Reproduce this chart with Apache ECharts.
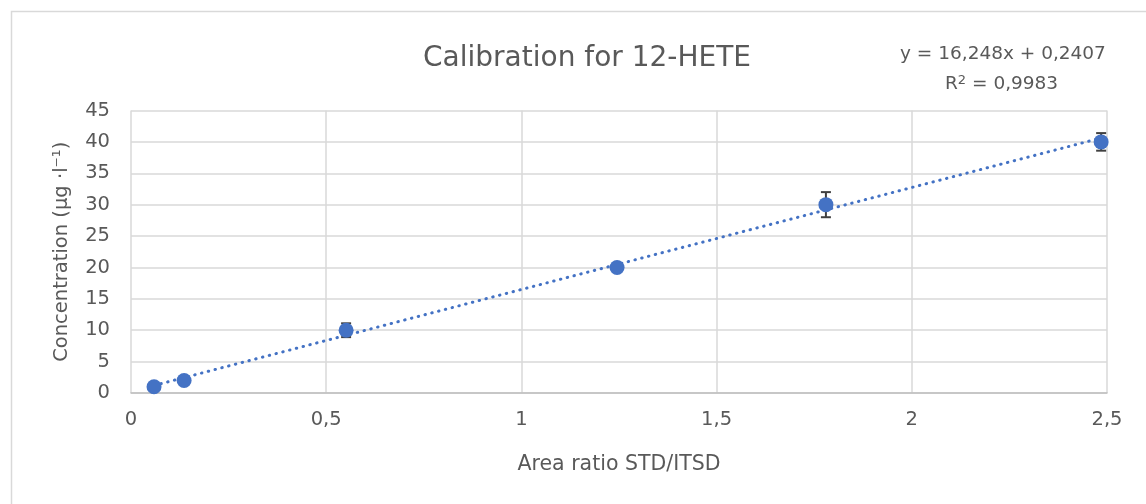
<!DOCTYPE html>
<html>
<head>
<meta charset="utf-8">
<script src="https://cdn.jsdelivr.net/npm/echarts@6/dist/echarts.min.js"></script>
<style>
  html, body { margin: 0; padding: 0; background: #fff; }
  #chart { width: 1146px; height: 504px; }
</style>
</head>
<body>
<div id="chart"></div>
<script>
// Calibration standards: area ratio (x) vs nominal concentration (y)
const areaRatio = [0.059, 0.136, 0.551, 1.245, 1.780, 2.485];
const concentration = [1, 2, 10, 20, 30, 40];
// Standard deviation of replicate measurements (µg·l⁻¹)
const errorSD = [0.3, 0.3, 1.1, 0.5, 2.0, 1.4];
// Linear fit coefficients
const slope = 16.248;
const intercept = 0.2407;
const rSquared = '0,9983';
const xTicks = [0, 0.5, 1, 1.5, 2, 2.5];

const FONT = '"DejaVu Sans", sans-serif';
const TEXT = '#595959';

const points = areaRatio.map((x, i) => [x, concentration[i]]);
const errorData = areaRatio.map((x, i) => [x, concentration[i] - errorSD[i], concentration[i] + errorSD[i]]);
const xFirst = areaRatio[0], xLast = areaRatio[areaRatio.length - 1];
const trend = [[xFirst, slope * xFirst + intercept], [xLast, slope * xLast + intercept]];

const fmt = v => String(v).replace('.', ',');

const chart = echarts.init(document.getElementById('chart'), null, { renderer: 'canvas' });
chart.setOption({
  backgroundColor: '#fff',
  animation: false,
  title: {
    text: 'Calibration for 12-HETE',
    left: 582, top: 40, textAlign: 'center',
    textStyle: { fontFamily: FONT, fontSize: 28, fontWeight: 'normal', color: TEXT }
  },
  graphic: [
    { type: 'rect', shape: { x: 11.5, y: 11.5, width: 1300, height: 700 },
      style: { fill: null, stroke: '#d9d9d9', lineWidth: 1.5 }, silent: true },
    { type: 'text', left: 900, top: 45,
      style: { text: 'y = 16,248x + 0,2407', fontFamily: FONT, fontSize: 18.5, fill: TEXT } },
    { type: 'text', left: 945, top: 74,
      style: { rich: { n: { fontFamily: FONT, fontSize: 18.5, fill: TEXT },
                       s: { fontFamily: FONT, fontSize: 13, fill: TEXT, verticalAlign: 'top', padding: [0, 0, 8, 0] } },
               text: '{n|R}{s|2}{n| = ' + rSquared + '}' } }
  ],
  grid: { left: 131, right: 39, top: 110.5, bottom: 111, containLabel: false },
  xAxis: {
    type: 'value', min: 0, max: 2.5, interval: 0.5,
    name: 'Area ratio STD/ITSD', nameLocation: 'middle', nameGap: 61,
    nameTextStyle: { fontFamily: FONT, fontSize: 20.5, color: TEXT },
    axisLine: { show: true, lineStyle: { color: '#bfbfbf', width: 1.5 } },
    axisTick: { show: false },
    axisLabel: { fontFamily: FONT, fontSize: 19.5, color: TEXT, margin: 17,
                 formatter: v => fmt(v) },
    splitLine: { show: true, lineStyle: { color: '#d9d9d9', width: 1.5 } }
  },
  yAxis: {
    type: 'value', min: 0, max: 45, interval: 5,
    name: 'Concentration (µg ·l⁻¹)', nameLocation: 'middle', nameGap: 59, nameRotate: 90,
    nameTextStyle: { fontFamily: FONT, fontSize: 19.5, color: TEXT },
    axisLine: { show: false },
    axisTick: { show: false },
    axisLabel: { fontFamily: FONT, fontSize: 19.5, color: TEXT, margin: 21 },
    splitLine: { show: true, lineStyle: { color: '#d9d9d9', width: 1.5 } }
  },
  series: [
    {
      name: 'Trend', type: 'line', data: trend, symbol: 'none', z: 2,
      lineStyle: { color: '#4472C4', width: 3, type: [0.5, 6.5], cap: 'round' }
    },
    {
      name: 'Error', type: 'custom', z: 3,
      data: errorData,
      renderItem: (params, api) => {
        const x = api.value(0);
        const lo = api.coord([x, api.value(1)]);
        const hi = api.coord([x, api.value(2)]);
        const hw = 5;
        const style = { stroke: '#404040', lineWidth: 2, fill: null };
        return { type: 'group', children: [
          { type: 'line', shape: { x1: lo[0], y1: lo[1], x2: hi[0], y2: hi[1] }, style },
          { type: 'line', shape: { x1: lo[0] - hw, y1: lo[1], x2: lo[0] + hw, y2: lo[1] }, style },
          { type: 'line', shape: { x1: hi[0] - hw, y1: hi[1], x2: hi[0] + hw, y2: hi[1] }, style }
        ] };
      },
      encode: { x: 0, y: [1, 2] }
    },
    {
      name: 'Standards', type: 'scatter', data: points, z: 4,
      symbol: 'circle', symbolSize: 15,
      itemStyle: { color: '#4472C4', opacity: 1 }
    }
  ]
});
</script>
</body>
</html>
